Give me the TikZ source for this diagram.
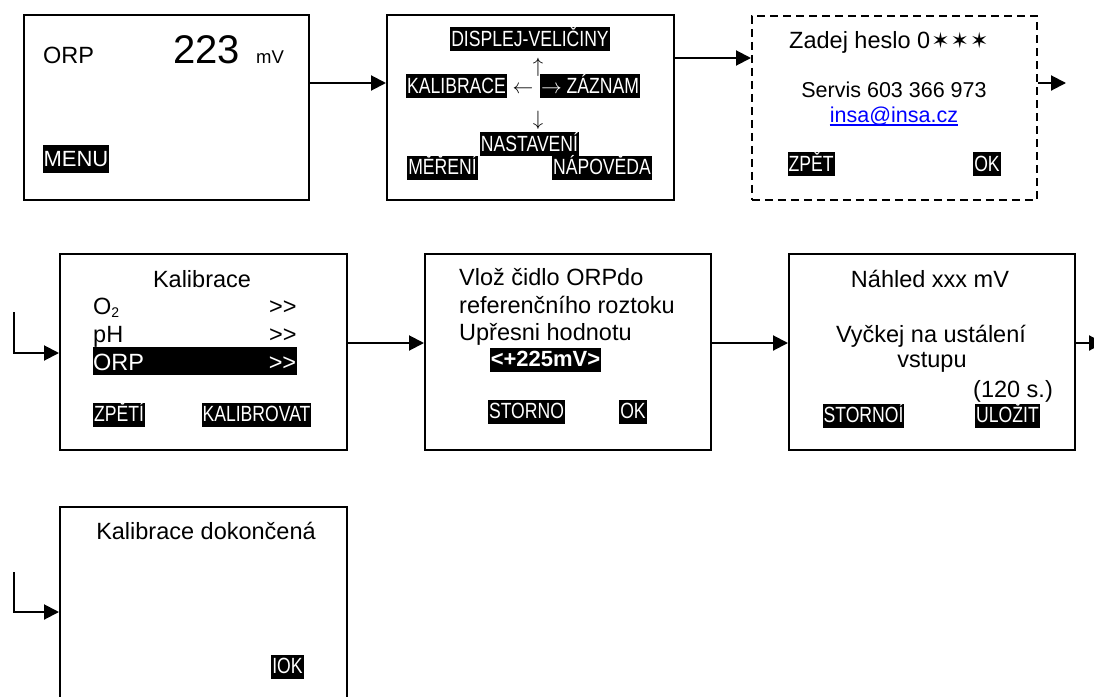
\documentclass[tikz,border=0pt]{standalone}
\usepackage{graphicx}
\usepackage{fontspec}
\setmainfont{Liberation Sans}
\newfontfamily\narrowfont[FakeStretch=0.8]{Liberation Sans}
\newfontfamily\symfont{DejaVu Sans}
\usetikzlibrary{arrows.meta}
\definecolor{linkblue}{RGB}{0,0,255}

\tikzset{
  screen/.style={draw, line width=1.9pt, anchor=north west, inner sep=0pt},
  flow/.style={line width=2pt, -{Triangle[length=15pt,width=15pt]}},
  txt/.style={inner sep=0pt, font=\fontsize{23.5}{28}\selectfont},
  small/.style={inner sep=0pt, font=\fontsize{21.5}{26}\selectfont},
  key/.style={fill=black, text=white, inner xsep=1pt, inner ysep=1pt,
    text height=18pt, text depth=4pt, font=\narrowfont\fontsize{22}{26}\selectfont},
  glyph/.style={inner sep=0pt, font=\fontsize{22}{26}\selectfont},
}

\begin{document}
\begin{tikzpicture}[x=1pt, y=-1pt]
\useasboundingbox (0,0) rectangle (1094,696);

% ---- screens ----
\node[screen, minimum width=285pt, minimum height=185pt] (s1) at (23,14) {};
\node[screen, minimum width=287pt, minimum height=185pt] (s2) at (386,14) {};
\node[screen, dash pattern=on 8pt off 5pt, minimum width=285pt, minimum height=184pt] (s3) at (751,15) {};
\node[screen, minimum width=287pt, minimum height=196pt] (s4) at (59,253) {};
\node[screen, minimum width=286pt, minimum height=196pt] (s5) at (424,253) {};
\node[screen, minimum width=286pt, minimum height=196pt] (s6) at (788,253) {};
\node[screen, minimum width=287pt, minimum height=215pt] (s7) at (59,506) {};

% ---- connectors ----
\coordinate (r1) at (0,83);
\coordinate (r2) at (0,58);
\coordinate (out3) at (1066,83);
\coordinate (r4) at (0,343);
\coordinate (out6) at (1104,343);
\coordinate (in4) at (14,312);
\coordinate (in4turn) at (14,353);
\coordinate (in7) at (14,572);
\coordinate (in7turn) at (14,612);

\draw[flow] (s1.east |- r1) -- (s2.west |- r1);
\draw[flow] (s2.east |- r2) -- (s3.west |- r2);
\draw[flow] (s3.east |- out3) -- (out3);
\draw[flow] (s4.east |- r4) -- (s5.west |- r4);
\draw[flow] (s5.east |- r4) -- (s6.west |- r4);
\draw[flow] (s6.east |- out6) -- (out6);
\draw[flow] (in4) -- (in4turn) -- (s4.west |- in4turn);
\draw[flow] (in7) -- (in7turn) -- (s7.west |- in7turn);

% ---- screen 1: measured value ----
\node[txt, anchor=base west] (orp1) at (43,63) {ORP};
\node[inner sep=0pt, anchor=base west, font=\fontsize{40}{44}\selectfont] (val1) at (173,63) {223};
\node[inner sep=0pt, anchor=base west, font=\fontsize{18.5}{22}\selectfont] (unit1) at (256,63) {mV};
\node[key, font=\fontsize{22}{26}\selectfont, text height=20pt, text depth=6pt] (menu) at (76,159) {MENU};

% ---- screen 2: menu ----
\node[key] (disp) at (530,39) {DISPLEJ-VELIČINY};
\node[glyph] (up) at (538,67) {$\uparrow$};
\node[key] (kal) at (456.5,86) {KALIBRACE};
\node[glyph] (left) at (523,90) {$\leftarrow$};
\node[key] (zaz) at (590,86) {$\rightarrow$ ZÁZNAM};
\node[glyph] (down) at (538,120) {$\downarrow$};
\node[key] (nast) at (529.5,144) {NASTAVENÍ};
\node[key] (mer) at (442.5,167.5) {MĚŘENÍ};
\node[key] (napo) at (602,167.5) {NÁPOVĚDA};

% ---- screen 3: password ----
\node[txt, anchor=base west] (pw) at (789,48) {Zadej heslo 0\hspace{1pt}{\symfont\fontsize{22}{24}\selectfont ✶\hspace{1pt}✶\hspace{1pt}✶}};
\node[small, anchor=base] (serv) at (894,97) {Servis 603 366 973};
\node[small, anchor=base, text=linkblue] (mail) at (894,122) {insa@insa.cz};
\draw[linkblue, line width=1.3pt] ([yshift=-3pt]mail.base west) -- ([yshift=-3pt]mail.base east);
\node[key] (back3) at (811,164) {ZPĚT};
\node[key] (ok3) at (987,164) {OK};

% ---- screen 4: calibration menu ----
\node[txt, anchor=base] (kt) at (202,287) {Kalibrace};
\node[txt, anchor=base west] (o2) at (93,314) {O\raisebox{-3pt}{\fontsize{14}{16}\selectfont 2}};
\node[txt, anchor=base west] (o2go) at (269,314) {>\kern0pt>};
\node[txt, anchor=base west] (ph) at (93,342) {pH};
\node[txt, anchor=base west] (phgo) at (269,342) {>\kern0pt>};
\node[fill=black, text=white, inner sep=0pt, anchor=north west, text height=23pt, text depth=5pt,
      font=\fontsize{23.5}{28}\selectfont] (orpsel) at (93,347)
      {\makebox[204pt][l]{ORP\hfill>\kern0pt>\hspace{1pt}}};
\node[key] (back4) at (119,414.5) {ZPĚTÍ};
\node[key] (calib) at (256.5,414.5) {KALIBROVAT};

% ---- screen 5: reference value ----
\node[txt, anchor=base west] (l51) at (459,285) {Vlož čidlo ORPdo};
\node[txt, anchor=base west] (l52) at (459,313) {referenčního roztoku};
\node[txt, anchor=base west] (l53) at (459,340) {Upřesni hodnotu};
\node[fill=black, text=white, inner xsep=1pt, inner ysep=1pt, text height=18pt, text depth=4pt,
      font=\bfseries\fontsize{22}{26}\selectfont] (refv) at (545.5,359.5) {<+225mV>};
\node[key] (cancel5) at (526.5,411.5) {STORNO};
\node[key] (ok5) at (633,411.5) {OK};

% ---- screen 6: preview ----
\node[txt, anchor=base] (prev) at (930,287) {Náhled xxx mV};
\node[txt, anchor=base] (wait1) at (931,342) {Vyčkej na ustálení};
\node[txt, anchor=base] (wait2) at (932,367) {vstupu};
\node[txt, anchor=base west] (secs) at (973,397) {(120 s.)};
\node[key] (cancel6) at (863.5,415.5) {STORNOÍ};
\node[key] (save6) at (1007.5,415.5) {ULOŽIT};

% ---- screen 7: done ----
\node[txt, anchor=base] (done) at (206,539) {Kalibrace dokončená};
\node[key] (ok7) at (287.5,666.5) {IOK};
\end{tikzpicture}
\end{document}
